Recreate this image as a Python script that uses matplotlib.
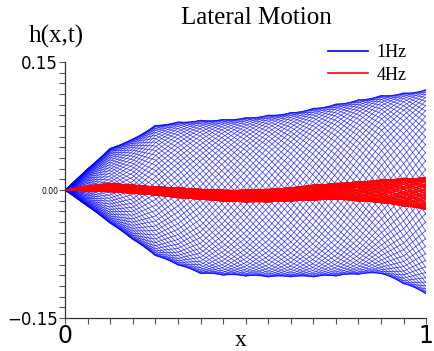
import numpy as np
import matplotlib
matplotlib.use('Agg')
import matplotlib.pyplot as plt
from matplotlib.lines import Line2D

# node positions along the line
x_nodes = [0.0, 0.0625, 0.125, 0.1875, 0.25, 0.3125, 0.375, 0.4375, 0.5,
           0.5625, 0.625, 0.6875, 0.75, 0.8125, 0.875, 0.9375, 1.0]

# 1Hz response: upper / lower envelope and phase lag at each node
top_1hz = [0.0, 0.025, 0.049, 0.060, 0.076, 0.080, 0.082, 0.083, 0.085,
           0.088, 0.091, 0.096, 0.101, 0.106, 0.111, 0.114, 0.118]
bot_1hz = [0.0, -0.019, -0.039, -0.058, -0.077, -0.088, -0.098, -0.100, -0.101,
           -0.102, -0.102, -0.102, -0.101, -0.099, -0.098, -0.110, -0.122]
lag_1hz = [0, 18, 36, 54, 72, 90, 108, 126, 144,
           162, 180, 198, 216, 234, 252, 270, 288]   # degrees

# 4Hz response: much smaller band around zero
top_4hz = [0.0, 0.005, 0.008, 0.006, 0.004, 0.003, 0.001, 0.000, 0.000,
           0.001, 0.003, 0.006, 0.008, 0.010, 0.012, 0.014, 0.015]
bot_4hz = [0.0, -0.001, -0.002, -0.004, -0.006, -0.009, -0.011, -0.013, -0.014,
           -0.014, -0.013, -0.012, -0.011, -0.013, -0.015, -0.019, -0.023]
lag_4hz = [0, 35, 70, 105, 140, 175, 210, 245, 280,
           315, 350, 385, 420, 455, 490, 525, 560]

n_snap = 72


def snapshots(top, bot, lag, freq):
    top, bot = np.array(top), np.array(bot)
    mid = (top + bot) / 2
    amp = (top - bot) / 2
    ph = np.radians(lag)
    t = np.arange(n_snap) / n_snap
    return [mid + amp * np.sin(2 * np.pi * freq * tk - ph) for tk in t]


fig = plt.figure(figsize=(4.34, 3.51), dpi=100)
ax = fig.add_axes([0.150, 0.094, 0.832, 0.729])

for h in snapshots(top_1hz, bot_1hz, lag_1hz, 1):
    ax.plot(x_nodes, h, color='#0000ff', linewidth=0.5, alpha=0.8)
for h in snapshots(top_4hz, bot_4hz, lag_4hz, 4.13):
    ax.plot(x_nodes, h, color='#ff0000', linewidth=0.6)

ax.set_xlim(0, 1)
ax.set_ylim(-0.15, 0.15)
for s in ['top', 'right']:
    ax.spines[s].set_visible(False)
for s in ['left', 'bottom']:
    ax.spines[s].set_color('#333333')
    ax.spines[s].set_linewidth(0.9)

ax.set_xticks([0, 1])
ax.set_xticks(np.arange(0, 1.0001, 0.0625), minor=True)
ax.set_xticklabels(['0', '1'], fontsize=17)
ax.set_yticks([-0.15, 0.0, 0.15])
ax.set_yticks(np.arange(-0.15, 0.1501, 0.0125), minor=True)
ax.set_yticklabels(['\u22120.15', '0.00', '0.15'])
ylabs = ax.get_yticklabels()
ylabs[0].set_fontsize(12)
ylabs[1].set_fontsize(5.5)
ylabs[2].set_fontsize(12)
ax.tick_params(which='both', direction='out', length=4, width=0.8, color='#555555')
ax.tick_params(axis='x', pad=0)
ax.tick_params(axis='y', pad=1)

# x label placed as figure text so it stays inside the picture
fig.text(0.555, 0.03, 'x', family='Liberation Serif', fontsize=17, ha='center', va='center')
fig.text(0.13, 0.895, 'h(x,t)', family='Liberation Serif', fontsize=18, ha='center', va='center')
fig.text(0.59, 0.95, 'Lateral Motion', family='Liberation Serif', fontsize=18, ha='center', va='center')

handles = [Line2D([], [], color='#0000ff', linewidth=1.2),
           Line2D([], [], color='#ff0000', linewidth=1.2)]
fig.legend(handles, ['1Hz', '4Hz'], loc='upper right', bbox_to_anchor=(0.975, 0.92),
           frameon=False, prop={'family': 'Liberation Serif', 'size': 13},
           handlelength=2.2, labelspacing=0.3, handletextpad=0.5)

fig.savefig('out.png', dpi=100)
